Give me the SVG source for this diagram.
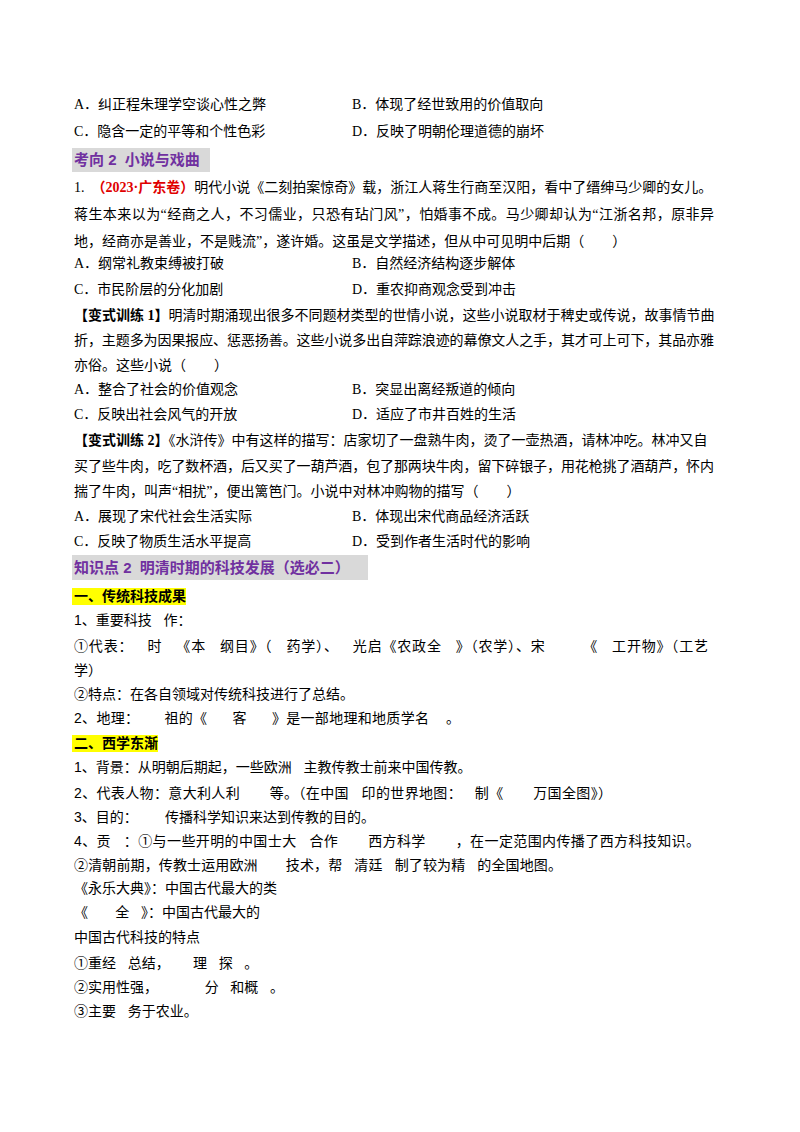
<svg xmlns="http://www.w3.org/2000/svg" width="800" height="1132" viewBox="0 0 800 1132">
<style>
text{font-family:"Liberation Serif","Noto Sans CJK SC",serif;font-size:14px;fill:#000;white-space:pre}
.s{font-family:"Liberation Sans","Noto Sans CJK SC",sans-serif}
.h{font-family:"Liberation Sans","Noto Sans CJK SC",sans-serif;font-weight:bold;fill:#7030a0;font-size:15px}
.y{font-family:"Liberation Sans","Noto Sans CJK SC",sans-serif;font-weight:bold}
.r{fill:#e00000;font-weight:bold}
.b{font-weight:bold}
</style>
<rect width="800" height="1132" fill="#fff"/>
<rect x="72" y="148" width="138" height="24" fill="#d9d9d9"/>
<rect x="72" y="555" width="296" height="25" fill="#d9d9d9"/>
<rect x="72" y="588" width="114" height="17" fill="#ffff00"/>
<rect x="72" y="735" width="86" height="17" fill="#ffff00"/>
<g xml:space="preserve">
<text x="74" y="109">A．纠正程朱理学空谈心性之弊</text>
<text x="352" y="109">B．体现了经世致用的价值取向</text>
<text x="74" y="136">C．隐含一定的平等和个性色彩</text>
<text x="352" y="136">D．反映了明朝伦理道德的崩坏</text>
<text class="h" x="74" y="165">考向 2  小说与戏曲</text>
<text x="74" y="192">1.  <tspan class="r">（2023·广东卷）</tspan>明代小说《二刻拍案惊奇》载，浙江人蒋生行商至汉阳，看中了缙绅马少卿的女儿。</text>
<text x="74" y="219" textLength="640">蒋生本来以为“经商之人，不习儒业，只恐有玷门风”，怕婚事不成。马少卿却认为“江浙名邦，原非异</text>
<text x="74" y="246">地，经商亦是善业，不是贱流”，遂许婚。这虽是文学描述，但从中可见明中后期（　　）</text>
<text x="74" y="268">A．纲常礼教束缚被打破</text>
<text x="352" y="268">B．自然经济结构逐步解体</text>
<text x="74" y="294">C．市民阶层的分化加剧</text>
<text x="352" y="294">D．重农抑商观念受到冲击</text>
<text x="74" y="320"><tspan class="b">【变式训练 1】</tspan>明清时期涌现出很多不同题材类型的世情小说，这些小说取材于稗史或传说，故事情节曲</text>
<text x="74" y="345" textLength="640">折，主题多为因果报应、惩恶扬善。这些小说多出自萍踪浪迹的幕僚文人之手，其才可上可下，其品亦雅</text>
<text x="74" y="370">亦俗。这些小说（　　）</text>
<text x="74" y="394">A．整合了社会的价值观念</text>
<text x="352" y="394">B．突显出离经叛道的倾向</text>
<text x="74" y="419">C．反映出社会风气的开放</text>
<text x="352" y="419">D．适应了市井百姓的生活</text>
<text x="74" y="445"><tspan class="b">【变式训练 2】</tspan>《水浒传》中有这样的描写：店家切了一盘熟牛肉，烫了一壶热酒，请林冲吃。林冲又自</text>
<text x="74" y="471" textLength="640">买了些牛肉，吃了数杯酒，后又买了一葫芦酒，包了那两块牛肉，留下碎银子，用花枪挑了酒葫芦，怀内</text>
<text x="74" y="496">揣了牛肉，叫声“相扰”，便出篱笆门。小说中对林冲购物的描写（　　）</text>
<text x="74" y="521">A．展现了宋代社会生活实际</text>
<text x="352" y="521">B．体现出宋代商品经济活跃</text>
<text x="74" y="546">C．反映了物质生活水平提高</text>
<text x="352" y="546">D．受到作者生活时代的影响</text>
<text class="h" x="74" y="573">知识点 2  明清时期的科技发展（选必二）</text>
<text class="y" x="74" y="601">一、传统科技成果</text>
<text class="s" x="74" y="625">1、重要科技   作：</text>
<text class="s" x="74" y="651" textLength="634">①代表：   时   《本   纲目》（   药学）、   光启《农政全   》（农学）、宋        《   工开物》（工艺</text>
<text class="s" x="74" y="675">学）</text>
<text class="s" x="74" y="699">②特点：在各自领域对传统科技进行了总结。</text>
<text class="s" x="74" y="723" textLength="386">2、地理：      祖的《      客      》是一部地理和地质学名    。</text>
<text class="y" x="74" y="748">二、西学东渐</text>
<text class="s" x="74" y="772">1、背景：从明朝后期起，一些欧洲   主教传教士前来中国传教。</text>
<text class="s" x="74" y="798" textLength="538">2、代表人物：意大利人利       等。（在中国   印的世界地图：   制《       万国全图》）</text>
<text class="s" x="74" y="822">3、目的：       传播科学知识来达到传教的目的。</text>
<text class="s" x="74" y="846" textLength="626">4、贡   ：①与一些开明的中国士大   合作       西方科学       ，在一定范围内传播了西方科技知识。</text>
<text class="s" x="74" y="870" textLength="488">②清朝前期，传教士运用欧洲       技术，帮   清廷   制了较为精   的全国地图。</text>
<text class="s" x="74" y="893">《永乐大典》：中国古代最大的类</text>
<text class="s" x="74" y="917">《       全   》：中国古代最大的</text>
<text class="s" x="74" y="942">中国古代科技的特点</text>
<text class="s" x="74" y="968">①重经   总结，      理   探   。</text>
<text class="s" x="74" y="992">②实用性强，            分   和概   。</text>
<text class="s" x="74" y="1016">③主要   务于农业。</text>
</g>
</svg>
